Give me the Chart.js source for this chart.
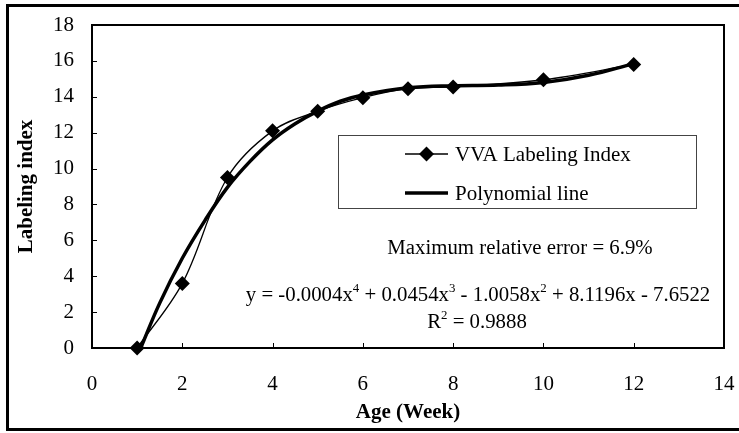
<!DOCTYPE html>
<html>
<head>
<meta charset="utf-8">
<script src="https://cdn.jsdelivr.net/npm/chart.js@4.4.0/dist/chart.umd.min.js"></script>
<style>
  html, body { margin: 0; padding: 0; background: #fff; }
  #caixa { width: 739px; height: 433px; }
</style>
</head>
<body>
<div id="caixa"><canvas id="grafico" width="739" height="433"></canvas></div>
<script>
// semanas medidas e indice de marcacao
const semanas = [1, 2, 3, 4, 5, 6, 7, 8, 10, 12];
const indiceVVA = [0, 3.6, 9.5, 12.1, 13.2, 13.95, 14.45, 14.55, 14.95, 15.8];

// linha polinomial (tracado da tendencia)
const semanasPoli = [1.08, 1.5, 2, 2.5, 3, 3.5, 4, 4.5, 5, 5.5, 6, 7, 8, 9, 10, 11, 12];
const valoresPoli = [0, 2.5, 5.0, 7.1, 8.95, 10.4, 11.6, 12.5, 13.2, 13.75, 14.1, 14.5, 14.62, 14.65, 14.8, 15.2, 15.85];

const ticksX = [0, 2, 4, 6, 8, 10, 12, 14];
const ticksY = [0, 2, 4, 6, 8, 10, 12, 14, 16, 18];

const nomeSerie = 'VVA Labeling Index';
const nomePoli = 'Polynomial line';
const textoErro = 'Maximum relative error = 6.9%';
// equacao em pedacos: [texto, expoente?]
const equacao = [
  ['y = -0.0004x', false], ['4', true],
  [' + 0.0454x', false], ['3', true],
  [' - 1.0058x', false], ['2', true],
  [' + 8.1196x - 7.6522', false]
];
const textoR2 = [['R', false], ['2', true], [' = 0.9888', false]];

const fonte = 'Liberation Serif, Times New Roman, serif';

function pares(xs, ys) {
  return xs.map((x, i) => ({ x: x, y: ys[i] }));
}

function desenhaLinhaTexto(ctx, partes, cx, base, tam) {
  let total = 0;
  partes.forEach(p => {
    ctx.font = (p[1] ? tam * 0.62 : tam) + 'px ' + fonte;
    total += ctx.measureText(p[0]).width;
  });
  let x = cx - total / 2;
  partes.forEach(p => {
    ctx.font = (p[1] ? tam * 0.62 : tam) + 'px ' + fonte;
    ctx.fillText(p[0], x, p[1] ? base - tam * 0.42 : base);
    x += ctx.measureText(p[0]).width;
  });
}

function losango(ctx, x, y, r) {
  ctx.beginPath();
  ctx.moveTo(x, y - r);
  ctx.lineTo(x + r, y);
  ctx.lineTo(x, y + r);
  ctx.lineTo(x - r, y);
  ctx.closePath();
  ctx.fill();
}

// moldura externa
const moldura = {
  id: 'moldura',
  beforeDraw(chart) {
    const ctx = chart.ctx;
    ctx.save();
    ctx.strokeStyle = '#000';
    ctx.lineWidth = 3;
    ctx.strokeRect(7.5, 5.5, 760, 424);
    ctx.restore();
  }
};

// bordas de cima/direita e tracinhos para dentro
const eixos = {
  id: 'eixos',
  beforeDatasetsDraw(chart) {
    const ctx = chart.ctx;
    const a = chart.chartArea;
    const sx = chart.scales.x, sy = chart.scales.y;
    ctx.save();
    ctx.strokeStyle = '#000';
    ctx.lineWidth = 2;
    ctx.beginPath();
    ctx.moveTo(a.left, a.top);
    ctx.lineTo(a.right, a.top);
    ctx.lineTo(a.right, a.bottom);
    ctx.stroke();
    ctx.lineWidth = 1;
    ctx.beginPath();
    ticksX.slice(1, -1).forEach(v => {
      const px = Math.round(sx.getPixelForValue(v)) + 0.5;
      ctx.moveTo(px, a.bottom);
      ctx.lineTo(px, a.bottom - 5);
    });
    ticksY.slice(1, -1).forEach(v => {
      const py = Math.round(sy.getPixelForValue(v)) + 0.5;
      ctx.moveTo(a.left, py);
      ctx.lineTo(a.left + 5, py);
    });
    ctx.stroke();
    ctx.restore();
  }
};

// legenda e textos da equacao
const legendaTextos = {
  id: 'legendaTextos',
  afterDraw(chart) {
    const ctx = chart.ctx;
    const a = chart.chartArea;
    const L = a.left, T = a.top;
    ctx.save();
    // caixa da legenda
    ctx.fillStyle = '#fff';
    ctx.fillRect(L + 246, T + 110, 358, 73);
    ctx.strokeStyle = '#444';
    ctx.lineWidth = 1;
    ctx.strokeRect(L + 246.5, T + 110.5, 358, 73);

    const ds = chart.data.datasets;
    ctx.strokeStyle = '#000';
    ctx.fillStyle = '#000';
    // serie
    let y1 = T + 129;
    ctx.lineWidth = ds[0].borderWidth;
    ctx.beginPath();
    ctx.moveTo(L + 313, y1);
    ctx.lineTo(L + 356, y1);
    ctx.stroke();
    losango(ctx, L + 334.5, y1, ds[0].pointRadius);
    // polinomio
    let y2 = T + 168;
    ctx.lineWidth = ds[1].borderWidth;
    ctx.beginPath();
    ctx.moveTo(L + 313, y2);
    ctx.lineTo(L + 356, y2);
    ctx.stroke();

    ctx.font = '21px ' + fonte;
    ctx.textBaseline = 'middle';
    ctx.textAlign = 'left';
    ctx.fillText(ds[0].label, L + 363, y1 + 1);
    ctx.fillText(ds[1].label, L + 363, y2 + 1);

    ctx.textBaseline = 'alphabetic';
    ctx.textAlign = 'center';
    ctx.font = '20.8px ' + fonte;
    ctx.fillText(textoErro, 520, 254);
    ctx.textAlign = 'left';
    desenhaLinhaTexto(ctx, equacao, 478, 301, 20.8);
    desenhaLinhaTexto(ctx, textoR2, 477, 328, 20.8);
    ctx.restore();
  }
};

const data = {
  datasets: [{
    label: nomeSerie,
    data: pares(semanas, indiceVVA),
    showLine: true,
    clip: false,
    borderColor: '#000',
    backgroundColor: '#000',
    borderWidth: 1.3,
    tension: 0.35,
    pointStyle: 'rectRot',
    pointRadius: 7.5,
    pointHoverRadius: 7.5,
    pointBorderWidth: 0
  }, {
    label: nomePoli,
    data: pares(semanasPoli, valoresPoli),
    showLine: true,
    clip: false,
    borderColor: '#000',
    backgroundColor: '#000',
    borderWidth: 3.5,
    tension: 0.4,
    pointRadius: 0,
    pointHoverRadius: 0
  }]
};

const config = {
  type: 'scatter',
  data: data,
  options: {
    responsive: false,
    animation: false,
    devicePixelRatio: 1,
    layout: { padding: { top: 25, right: 15, left: 0, bottom: 0 } },
    plugins: {
      legend: { display: false },
      tooltip: { enabled: false }
    },
    scales: {
      x: {
        type: 'linear',
        min: 0,
        max: 14,
        afterFit(s) { s.height = 85; s.paddingLeft = 0; s.paddingRight = 0; },
        afterBuildTicks(s) { s.ticks = ticksX.map(v => ({ value: v })); },
        ticks: { color: '#000', padding: 16, font: { family: fonte, size: 21 } },
        grid: { display: false },
        border: { display: true, color: '#000', width: 2 },
        title: {
          display: true,
          text: 'Age (Week)',
          color: '#000',
          font: { family: fonte, size: 21, weight: 'bold' },
          padding: { top: 0, bottom: 8 }
        }
      },
      y: {
        type: 'linear',
        min: 0,
        max: 18,
        afterFit(s) { s.width = 92; s.paddingTop = 0; s.paddingBottom = 0; },
        afterBuildTicks(s) { s.ticks = ticksY.map(v => ({ value: v })); },
        ticks: { color: '#000', padding: 10, font: { family: fonte, size: 21 } },
        grid: { display: false },
        border: { display: true, color: '#000', width: 2 },
        title: {
          display: true,
          text: 'Labeling index',
          color: '#000',
          font: { family: fonte, size: 21, weight: 'bold' },
          padding: { top: 14, bottom: 0 }
        }
      }
    }
  },
  plugins: [moldura, eixos, legendaTextos]
};

let grafico = new Chart(document.getElementById('grafico'), config);
</script>
</body>
</html>
